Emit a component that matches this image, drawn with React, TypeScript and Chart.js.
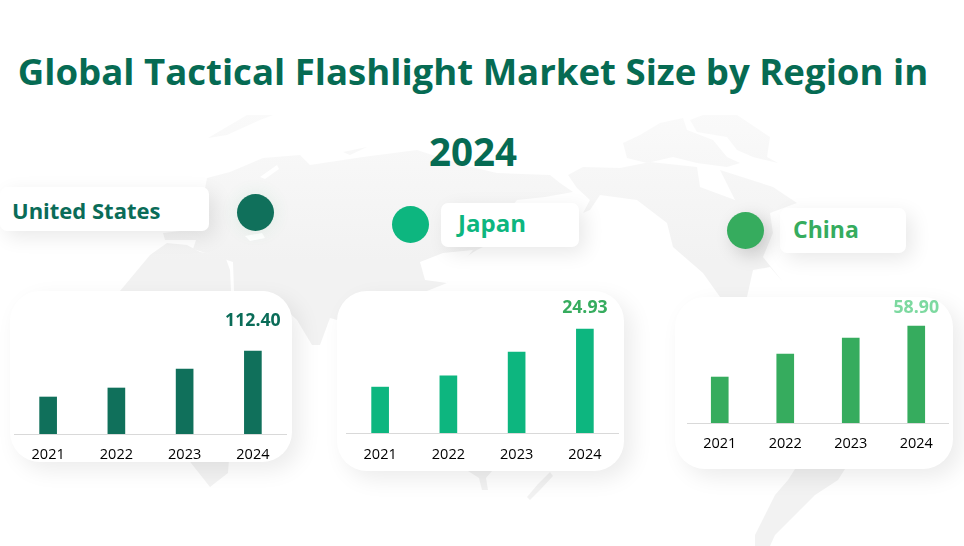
import React, { useEffect, useRef } from "react";
import { Chart, registerables } from "chart.js";

Chart.register(...registerables);

const years = ["2021", "2022", "2023", "2024"];
const unitedStatesValues = [50.1, 62.3, 88.0, 112.4];
const japanValues = [11.0, 13.7, 19.4, 24.93];
const chinaValues = [27.9, 41.9, 51.6, 58.9];

const FONT = '"Open Sans", "Noto Sans", sans-serif';

const MAP_LAND = [
  "207,178 230,172 263,158 300,155 310,165 363,157 417,150 463,165 497,173 550,175 560,183 573,192 545,197 517,200 505,215 497,240 477,250 450,267 447,283 427,291 400,300 337,320 330,318 320,345 312,345 297,320 265,291 234,291 233,262 215,256 193,249 196,240 165,240 163,233 180,231 200,215",
  "120,291 150,255 167,243 187,245 200,252 225,256 230,270 231,291 231,400 230,445 228,473 210,487 191,463 150,400",
  "208,138 247,115 273,115 260,120 227,135",
  "343,152 367,147 350,155",
  "468,471 492,471 486,478 488,490 482,490 479,478",
  "550,472 553,476 540,490 530,500 527,497 538,484",
  "568,175 583,167 620,168 650,162 697,167 700,187 735,200 720,170 773,187 797,203 770,213 773,233 763,257 783,282 770,267 753,270 747,297 720,297 703,273 673,247 667,223 637,200 600,195 590,210 583,213 590,200 577,188",
  "690,120 703,115 737,115 770,137 767,157 778,163 753,157 737,150 727,137 697,132",
  "623,143 640,135 660,123 683,118 687,130 713,140 727,157 740,163 727,167 697,163 673,157 647,163 627,158",
  "795,469 845,469 838,480 815,495 800,510 790,520 775,535 770,546 755,546 755,535 765,515 775,495 788,480",
];
const MAP_WATER = [
  "260,177 277,165 279,169 265,179",
  "420,262 443,253 473,250 447,283 425,280",
  "245,236 262,233 265,238 250,241",
];

type ChartSpec = {
  values: number[];
  color: string;
  valueColor: string;
  yMax: number;
  valueGap: number;
  tickPadding: number;
  left: number;
  top: number;
  width: number;
  height: number;
  barWidth: number;
};

const valueLabelPlugin = {
  id: "lastValueLabel",
  afterDatasetsDraw(chart: any, _args: any, opts: any) {
    const meta = chart.getDatasetMeta(0);
    const bar = meta.data[meta.data.length - 1];
    const ds = chart.data.datasets[0].data as number[];
    const ctx = chart.ctx;
    ctx.save();
    ctx.font = `700 17.7px ${FONT}`;
    ctx.fillStyle = opts.color;
    ctx.textAlign = "center";
    ctx.textBaseline = "middle";
    ctx.fillText(ds[ds.length - 1].toFixed(2), bar.x, bar.y - opts.gap);
    ctx.restore();
  },
};

function BarCard({ spec }: { spec: ChartSpec }) {
  const ref = useRef<HTMLCanvasElement | null>(null);
  useEffect(() => {
    if (!ref.current) return;
    const chart = new Chart(ref.current, {
      type: "bar",
      data: {
        labels: years,
        datasets: [{ data: spec.values, backgroundColor: spec.color, barThickness: spec.barWidth, borderWidth: 0 }],
      },
      plugins: [valueLabelPlugin],
      options: {
        animation: false,
        responsive: false,
        layout: { padding: 0 },
        plugins: {
          legend: { display: false },
          tooltip: { enabled: false },
          lastValueLabel: { color: spec.valueColor, gap: spec.valueGap },
        } as any,
        scales: {
          x: {
            afterFit: (s: any) => {
              s.height = 28;
            },
            grid: { display: true, drawOnChartArea: false, drawTicks: false },
            border: { display: true, color: "#d9d9d9", width: 1 },
            ticks: { color: "#000000", padding: spec.tickPadding, maxRotation: 0, font: { family: FONT, size: 14.5 } },
          },
          y: { display: false, min: 0, max: spec.yMax },
        },
      },
    });
    return () => chart.destroy();
  }, [spec]);
  return (
    <canvas
      ref={ref}
      width={spec.width}
      height={spec.height}
      style={{ position: "absolute", left: spec.left, top: spec.top, width: spec.width, height: spec.height }}
    />
  );
}

const specs: ChartSpec[] = [
  { values: unitedStatesValues, color: "#10705B", valueColor: "#0A6C58", yMax: 193.7, valueGap: 30, tickPadding: 12, left: 13.5, top: 291, width: 273, height: 171, barWidth: 17 },
  { values: japanValues, color: "#0DB67F", valueColor: "#36AC5E", yMax: 34.04, valueGap: 21, tickPadding: 13, left: 345.5, top: 291, width: 273, height: 170, barWidth: 17 },
  { values: chinaValues, color: "#36AC5E", valueColor: "#7DD9A0", yMax: 76.5, valueGap: 18, tickPadding: 12, left: 687, top: 297, width: 262, height: 154, barWidth: 17 },
];

const cards = [
  { left: 10, top: 291, width: 282, height: 171 },
  { left: 337, top: 291, width: 287, height: 180 },
  { left: 675, top: 297, width: 278, height: 172 },
];

const regions = [
  { name: "United States", color: "#0A6C58", size: 22, textDy: 1, box: { left: 0, top: 187, width: 209, height: 44 }, textLeft: 12, dot: [255, 212], dotColor: "#10705B", dotShadow: "0 0 18px rgba(60,170,110,0.12)" },
  { name: "Japan", color: "#0DB67F", size: 24, textDy: -2, box: { left: 441, top: 203, width: 138, height: 44 }, textLeft: 458, dot: [410, 224.5], dotColor: "#0DB67F", dotShadow: "none" },
  { name: "China", color: "#36AC5E", size: 23, textDy: -1, box: { left: 780, top: 208, width: 126, height: 45 }, textLeft: 793, dot: [745.7, 230], dotColor: "#36AC5E", dotShadow: "6px 6px 18px rgba(0,0,0,0.18)" },
];

export default function App() {
  useEffect(() => {
    document.body.style.margin = "0";
    document.body.style.background = "#ffffff";
  }, []);
  return (
    <div style={{ position: "absolute", left: 0, top: 0, width: 964, height: 546, overflow: "hidden", background: "#fff", fontFamily: FONT }}>
      <svg width={964} height={546} style={{ position: "absolute", left: 0, top: 0 }}>
        <defs>
          <linearGradient id="mapFade" gradientUnits="userSpaceOnUse" x1="0" y1="110" x2="0" y2="260">
            <stop offset="0" stopColor="#fafafa" />
            <stop offset="1" stopColor="#f2f2f2" />
          </linearGradient>
        </defs>
        {MAP_LAND.map((p, i) => (
          <polygon key={i} points={p} fill="url(#mapFade)" />
        ))}
        {MAP_WATER.map((p, i) => (
          <polygon key={i} points={p} fill="#ffffff" />
        ))}
      </svg>

      <div style={{ position: "absolute", left: 0, top: 31, width: 946, textAlign: "center", color: "#066B53", fontWeight: 700, fontSize: 36.6, lineHeight: "80px", whiteSpace: "nowrap" }}>
        Global Tactical Flashlight Market Size by Region in
        <br />
        <span style={{ fontSize: 38.5 }}>2024</span>
      </div>

      {regions.map((r) => (
        <React.Fragment key={r.name}>
          <div style={{ position: "absolute", ...r.box, background: "#fff", borderRadius: 7, boxShadow: "6px 6px 20px rgba(0,0,0,0.09)" }} />
          <div style={{ position: "absolute", left: r.textLeft, top: r.box.top + r.textDy, height: r.box.height, lineHeight: `${r.box.height}px`, color: r.color, fontWeight: 700, fontSize: r.size, whiteSpace: "nowrap" }}>
            {r.name}
          </div>
          <div style={{ position: "absolute", left: r.dot[0] - 18.5, top: r.dot[1] - 18.5, width: 37, height: 37, borderRadius: "50%", background: r.dotColor, boxShadow: r.dotShadow }} />
        </React.Fragment>
      ))}

      {cards.map((c, i) => (
        <div key={i} style={{ position: "absolute", ...c, background: "#fff", borderRadius: 30, boxShadow: "8px 8px 22px rgba(0,0,0,0.08)" }} />
      ))}

      {specs.map((s, i) => (
        <BarCard key={i} spec={s} />
      ))}
    </div>
  );
}
